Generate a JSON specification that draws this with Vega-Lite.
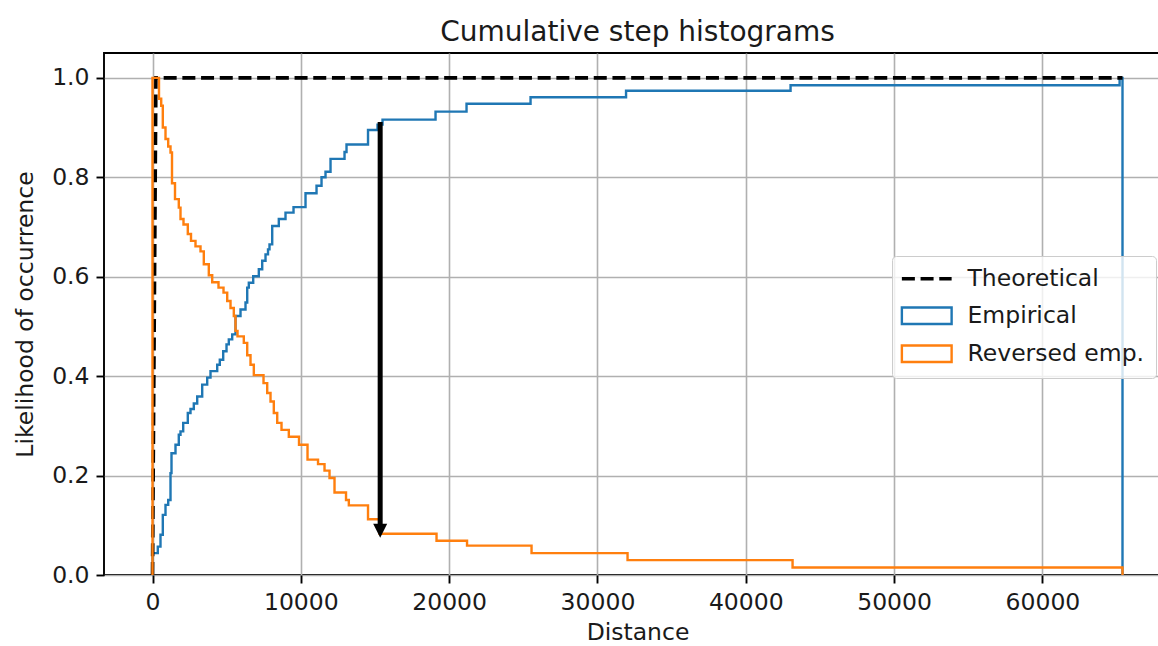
{
  "$schema": "https://vega.github.io/schema/vega-lite/v6.json",
  "width": 1067,
  "height": 522,
  "autosize": {"type": "none"},
  "padding": {"left": 104, "top": 53, "right": 0, "bottom": 71},
  "background": "white",
  "title": {"text": "Cumulative step histograms", "fontSize": 28, "font": "DejaVu Sans", "fontWeight": "normal", "color": "#1a1a1a", "anchor": "middle", "baseline": "alphabetic", "offset": 14, "dy": 30},
  "config": {
    "font": "DejaVu Sans",
    "view": {"stroke": "#000", "strokeWidth": 1.9},
    "axis": {
      "domain": false,
      "grid": true,
      "gridColor": "#b0b0b0",
      "gridWidth": 1.6,
      "tickColor": "#000",
      "tickWidth": 1.9,
      "tickSize": 8,
      "labelFont": "DejaVu Sans",
      "labelFontSize": 23.5,
      "labelColor": "#1a1a1a",
      "labelPadding": 7,
      "titleFont": "DejaVu Sans",
      "titleFontSize": 23.5,
      "titleFontWeight": "normal",
      "titleColor": "#1a1a1a"
    }
  },
  "datasets": {
    "emp": [
      {"i": 0, "d": 0, "p": 0, "s": "Empirical"},
      {"i": 1, "d": 0, "p": 0.044, "s": "Empirical"},
      {"i": 2, "d": 357, "p": 0.057, "s": "Empirical"},
      {"i": 3, "d": 539, "p": 0.081, "s": "Empirical"},
      {"i": 4, "d": 695, "p": 0.121, "s": "Empirical"},
      {"i": 5, "d": 877, "p": 0.141, "s": "Empirical"},
      {"i": 6, "d": 1059, "p": 0.151, "s": "Empirical"},
      {"i": 7, "d": 1214, "p": 0.205, "s": "Empirical"},
      {"i": 8, "d": 1281, "p": 0.245, "s": "Empirical"},
      {"i": 9, "d": 1551, "p": 0.262, "s": "Empirical"},
      {"i": 10, "d": 1773, "p": 0.282, "s": "Empirical"},
      {"i": 11, "d": 1888, "p": 0.289, "s": "Empirical"},
      {"i": 12, "d": 2070, "p": 0.306, "s": "Empirical"},
      {"i": 13, "d": 2380, "p": 0.326, "s": "Empirical"},
      {"i": 14, "d": 2562, "p": 0.334, "s": "Empirical"},
      {"i": 15, "d": 2785, "p": 0.345, "s": "Empirical"},
      {"i": 16, "d": 3014, "p": 0.359, "s": "Empirical"},
      {"i": 17, "d": 3351, "p": 0.383, "s": "Empirical"},
      {"i": 18, "d": 3688, "p": 0.397, "s": "Empirical"},
      {"i": 19, "d": 3911, "p": 0.410, "s": "Empirical"},
      {"i": 20, "d": 4363, "p": 0.423, "s": "Empirical"},
      {"i": 21, "d": 4538, "p": 0.433, "s": "Empirical"},
      {"i": 22, "d": 4767, "p": 0.450, "s": "Empirical"},
      {"i": 23, "d": 4990, "p": 0.464, "s": "Empirical"},
      {"i": 24, "d": 5145, "p": 0.474, "s": "Empirical"},
      {"i": 25, "d": 5374, "p": 0.484, "s": "Empirical"},
      {"i": 26, "d": 5597, "p": 0.521, "s": "Empirical"},
      {"i": 27, "d": 5934, "p": 0.534, "s": "Empirical"},
      {"i": 28, "d": 6271, "p": 0.548, "s": "Empirical"},
      {"i": 29, "d": 6386, "p": 0.578, "s": "Empirical"},
      {"i": 30, "d": 6494, "p": 0.588, "s": "Empirical"},
      {"i": 31, "d": 6790, "p": 0.601, "s": "Empirical"},
      {"i": 32, "d": 7168, "p": 0.615, "s": "Empirical"},
      {"i": 33, "d": 7397, "p": 0.632, "s": "Empirical"},
      {"i": 34, "d": 7620, "p": 0.645, "s": "Empirical"},
      {"i": 35, "d": 7788, "p": 0.655, "s": "Empirical"},
      {"i": 36, "d": 7889, "p": 0.665, "s": "Empirical"},
      {"i": 37, "d": 8071, "p": 0.702, "s": "Empirical"},
      {"i": 38, "d": 8516, "p": 0.716, "s": "Empirical"},
      {"i": 39, "d": 8968, "p": 0.729, "s": "Empirical"},
      {"i": 40, "d": 9508, "p": 0.740, "s": "Empirical"},
      {"i": 41, "d": 10317, "p": 0.768, "s": "Empirical"},
      {"i": 42, "d": 11059, "p": 0.783, "s": "Empirical"},
      {"i": 43, "d": 11396, "p": 0.800, "s": "Empirical"},
      {"i": 44, "d": 11665, "p": 0.811, "s": "Empirical"},
      {"i": 45, "d": 12003, "p": 0.837, "s": "Empirical"},
      {"i": 46, "d": 12947, "p": 0.851, "s": "Empirical"},
      {"i": 47, "d": 13081, "p": 0.866, "s": "Empirical"},
      {"i": 48, "d": 14531, "p": 0.895, "s": "Empirical"},
      {"i": 49, "d": 15172, "p": 0.906, "s": "Empirical"},
      {"i": 50, "d": 15509, "p": 0.916, "s": "Empirical"},
      {"i": 51, "d": 19083, "p": 0.932, "s": "Empirical"},
      {"i": 52, "d": 21173, "p": 0.948, "s": "Empirical"},
      {"i": 53, "d": 25489, "p": 0.961, "s": "Empirical"},
      {"i": 54, "d": 31928, "p": 0.974, "s": "Empirical"},
      {"i": 55, "d": 43020, "p": 0.985, "s": "Empirical"},
      {"i": 56, "d": 65205, "p": 1.0, "s": "Empirical"},
      {"i": 57, "d": 65400, "p": 1.0, "s": "Empirical"},
      {"i": 58, "d": 65400, "p": 0, "s": "Empirical"}
    ],
    "rev": [
      {"i": 0, "d": 0, "p": 0, "s": "Reversed emp."},
      {"i": 1, "d": 0, "p": 1.0, "s": "Reversed emp."},
      {"i": 2, "d": 438, "p": 0.958, "s": "Reversed emp."},
      {"i": 3, "d": 587, "p": 0.944, "s": "Reversed emp."},
      {"i": 4, "d": 695, "p": 0.900, "s": "Reversed emp."},
      {"i": 5, "d": 877, "p": 0.877, "s": "Reversed emp."},
      {"i": 6, "d": 1059, "p": 0.862, "s": "Reversed emp."},
      {"i": 7, "d": 1214, "p": 0.850, "s": "Reversed emp."},
      {"i": 8, "d": 1315, "p": 0.788, "s": "Reversed emp."},
      {"i": 9, "d": 1517, "p": 0.756, "s": "Reversed emp."},
      {"i": 10, "d": 1773, "p": 0.739, "s": "Reversed emp."},
      {"i": 11, "d": 1888, "p": 0.716, "s": "Reversed emp."},
      {"i": 12, "d": 2090, "p": 0.705, "s": "Reversed emp."},
      {"i": 13, "d": 2380, "p": 0.686, "s": "Reversed emp."},
      {"i": 14, "d": 2596, "p": 0.672, "s": "Reversed emp."},
      {"i": 15, "d": 2899, "p": 0.661, "s": "Reversed emp."},
      {"i": 16, "d": 3237, "p": 0.651, "s": "Reversed emp."},
      {"i": 17, "d": 3459, "p": 0.625, "s": "Reversed emp."},
      {"i": 18, "d": 3796, "p": 0.603, "s": "Reversed emp."},
      {"i": 19, "d": 4026, "p": 0.589, "s": "Reversed emp."},
      {"i": 20, "d": 4450, "p": 0.578, "s": "Reversed emp."},
      {"i": 21, "d": 4788, "p": 0.568, "s": "Reversed emp."},
      {"i": 22, "d": 5037, "p": 0.551, "s": "Reversed emp."},
      {"i": 23, "d": 5260, "p": 0.537, "s": "Reversed emp."},
      {"i": 24, "d": 5482, "p": 0.521, "s": "Reversed emp."},
      {"i": 25, "d": 5597, "p": 0.491, "s": "Reversed emp."},
      {"i": 26, "d": 5732, "p": 0.480, "s": "Reversed emp."},
      {"i": 27, "d": 6156, "p": 0.467, "s": "Reversed emp."},
      {"i": 28, "d": 6386, "p": 0.442, "s": "Reversed emp."},
      {"i": 29, "d": 6608, "p": 0.423, "s": "Reversed emp."},
      {"i": 30, "d": 6831, "p": 0.402, "s": "Reversed emp."},
      {"i": 31, "d": 7485, "p": 0.386, "s": "Reversed emp."},
      {"i": 32, "d": 7734, "p": 0.366, "s": "Reversed emp."},
      {"i": 33, "d": 7957, "p": 0.349, "s": "Reversed emp."},
      {"i": 34, "d": 8179, "p": 0.326, "s": "Reversed emp."},
      {"i": 35, "d": 8409, "p": 0.306, "s": "Reversed emp."},
      {"i": 36, "d": 8698, "p": 0.292, "s": "Reversed emp."},
      {"i": 37, "d": 9191, "p": 0.278, "s": "Reversed emp."},
      {"i": 38, "d": 9878, "p": 0.262, "s": "Reversed emp."},
      {"i": 39, "d": 10452, "p": 0.232, "s": "Reversed emp."},
      {"i": 40, "d": 11160, "p": 0.223, "s": "Reversed emp."},
      {"i": 41, "d": 11598, "p": 0.210, "s": "Reversed emp."},
      {"i": 42, "d": 11935, "p": 0.195, "s": "Reversed emp."},
      {"i": 43, "d": 12272, "p": 0.166, "s": "Reversed emp."},
      {"i": 44, "d": 13048, "p": 0.151, "s": "Reversed emp."},
      {"i": 45, "d": 13237, "p": 0.140, "s": "Reversed emp."},
      {"i": 46, "d": 14531, "p": 0.112, "s": "Reversed emp."},
      {"i": 47, "d": 15307, "p": 0.083, "s": "Reversed emp."},
      {"i": 48, "d": 19150, "p": 0.069, "s": "Reversed emp."},
      {"i": 49, "d": 21207, "p": 0.059, "s": "Reversed emp."},
      {"i": 50, "d": 25556, "p": 0.044, "s": "Reversed emp."},
      {"i": 51, "d": 32029, "p": 0.030, "s": "Reversed emp."},
      {"i": 52, "d": 43155, "p": 0.015, "s": "Reversed emp."},
      {"i": 53, "d": 65400, "p": 0.015, "s": "Reversed emp."},
      {"i": 54, "d": 65400, "p": 0, "s": "Reversed emp."}
    ],
    "theo": [
      {"i": 0, "d": 0, "p": 0, "s": "Theoretical"},
      {"i": 1, "d": 230, "p": 1.0, "s": "Theoretical"},
      {"i": 2, "d": 65400, "p": 1.0, "s": "Theoretical"}
    ],
    "shaft": [{"d": 15350, "p": 0.911, "p2": 0.10}],
    "head": [{"d": 15350, "p": 0.089}]
  },
  "encoding": {
    "x": {
      "field": "d", "type": "quantitative",
      "scale": {"domain": [-3270, 68670], "nice": false, "zero": false},
      "axis": {"values": [0, 10000, 20000, 30000, 40000, 50000, 60000], "format": "d", "title": "Distance", "titleX": 533.5, "titleY": 64, "titleBaseline": "alphabetic", "titleAnchor": "middle", "titleAlign": "center"}
    },
    "y": {
      "field": "p", "type": "quantitative",
      "scale": {"domain": [0, 1.05], "nice": false, "zero": false},
      "axis": {"values": [0, 0.2, 0.4, 0.6, 0.8, 1.0], "format": ".1f", "title": "Likelihood of occurrence", "titleX": -72, "titleY": 261, "titleBaseline": "alphabetic", "titleAlign": "center", "titleAngle": 270}
    }
  },
  "layer": [
    {
      "data": {"name": "emp"},
      "mark": {"type": "line", "interpolate": "step-after", "strokeWidth": 2.4},
      "encoding": {
        "order": {"field": "i", "type": "quantitative"},
        "color": {
          "field": "s", "type": "nominal",
          "scale": {"domain": ["Theoretical", "Empirical", "Reversed emp."], "range": ["#000000", "#1f77b4", "#ff7f0e"]},
          "legend": {
            "title": null, "orient": "none", "legendX": 788, "legendY": 203,
            "padding": 11, "fillColor": "rgba(255,255,255,0.8)", "strokeColor": "#cccccc", "cornerRadius": 4,
            "labelFontSize": 23.5, "labelColor": "#1a1a1a", "labelFont": "DejaVu Sans", "labelLimit": 400,
            "symbolSize": 1100, "rowPadding": 11, "labelOffset": 29, "symbolOffset": 12,
            "encode": {"symbols": {"update": {
              "shape": {"signal": "datum.value === 'Theoretical' ? 'M-1.5,0H1.5' : 'M-1.5,-0.5H1.5V0.5H-1.5Z'"},
              "fill": {"value": "transparent"},
              "strokeWidth": {"signal": "datum.value === 'Theoretical' ? 3.6 : 2.4"},
              "strokeDash": {"signal": "datum.value === 'Theoretical' ? [13, 5.7] : [1, 0]"}
            }}}
          }
        }
      }
    },
    {
      "data": {"name": "theo"},
      "mark": {"type": "line", "strokeWidth": 3.6, "strokeDash": [13, 5.7]},
      "encoding": {
        "order": {"field": "i", "type": "quantitative"},
        "color": {"field": "s", "type": "nominal", "scale": {"domain": ["Theoretical", "Empirical", "Reversed emp."], "range": ["#000000", "#1f77b4", "#ff7f0e"]}}
      }
    },
    {
      "data": {"name": "rev"},
      "mark": {"type": "line", "interpolate": "step-after", "strokeWidth": 2.4},
      "encoding": {
        "order": {"field": "i", "type": "quantitative"},
        "color": {"field": "s", "type": "nominal", "scale": {"domain": ["Theoretical", "Empirical", "Reversed emp."], "range": ["#000000", "#1f77b4", "#ff7f0e"]}}
      }
    },
    {
      "data": {"name": "shaft"},
      "mark": {"type": "rule", "strokeWidth": 5, "color": "#000"},
      "encoding": {"y2": {"field": "p2"}}
    },
    {
      "data": {"name": "head"},
      "mark": {"type": "point", "shape": "M-1,-1L1,-1L0,1Z", "size": 196, "filled": true, "color": "#000", "opacity": 1, "strokeWidth": 0}
    }
  ]
}
